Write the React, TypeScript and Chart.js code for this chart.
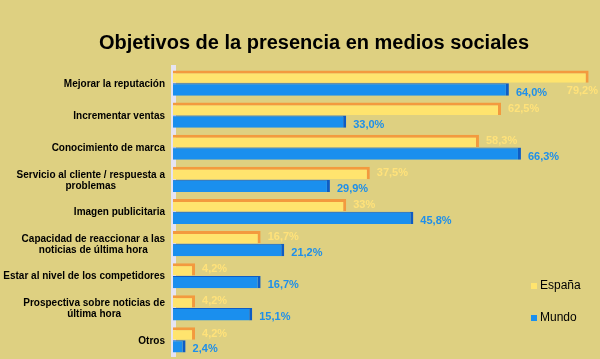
import React, { useEffect, useRef } from "react";
import { Chart, registerables } from "chart.js";

Chart.register(...registerables);

const TITLE = "Objetivos de la presencia en medios sociales";
const categories: string[][] = [
  ["Mejorar la reputación"],
  ["Incrementar ventas"],
  ["Conocimiento de marca"],
  ["Servicio al cliente / respuesta a", "problemas"],
  ["Imagen publicitaria"],
  ["Capacidad de reaccionar a las", "noticias de última hora"],
  ["Estar al nivel de los competidores"],
  ["Prospectiva sobre noticias de", "última hora"],
  ["Otros"],
];
const seriesNames = ["España", "Mundo"];
const espana = [79.2, 62.5, 58.3, 37.5, 33, 16.7, 4.2, 4.2, 4.2];
const mundo = [64.0, 33.0, 66.3, 29.9, 45.8, 21.2, 16.7, 15.1, 2.4];
const espanaLabels = ["79,2%", "62,5%", "58,3%", "37,5%", "33%", "16,7%", "4,2%", "4,2%", "4,2%"];
const mundoLabels = ["64,0%", "33,0%", "66,3%", "29,9%", "45,8%", "21,2%", "16,7%", "15,1%", "2,4%"];

const BG = "#DED081";
const YELLOW = "#FFE46E";
const ORANGE = "#F39A3E";
const BLUE = "#1A8FEE";
const DARKBLUE = "#0E5CC4";
const FONT = "Arial, 'Liberation Sans', sans-serif";

const decorPlugin = {
  id: "decor",
  afterDatasetsDraw(chart: any) {
    const ctx = chart.ctx;
    const W = chart.width;
    ctx.save();
    const sets = [
      { labels: espanaLabels, color: "#FFE27A", dy: 0 },
      { labels: mundoLabels, color: "#1E8FEA", dy: 3 },
    ];
    sets.forEach((s, di) => {
      const meta = chart.getDatasetMeta(di);
      ctx.font = "bold 11px " + FONT;
      ctx.fillStyle = s.color;
      ctx.textBaseline = "middle";
      meta.data.forEach((bar: any, i: number) => {
        const txt = s.labels[i];
        const w = ctx.measureText(txt).width;
        let x = bar.x + 7;
        let y = bar.y + s.dy;
        if (x + w > W - 2) {
          x = W - 2 - w;
          y = bar.y + 14;
        }
        ctx.textAlign = "left";
        ctx.fillText(txt, x, y);
      });
    });
    ctx.restore();
  },
  afterDraw(chart: any) {
    const ctx = chart.ctx;
    const yScale = chart.scales.y;
    ctx.save();
    ctx.font = "bold 20px " + FONT;
    ctx.fillStyle = "#000";
    ctx.textAlign = "center";
    ctx.textBaseline = "middle";
    ctx.fillText(TITLE, 314, 43);
    ctx.font = "bold 10px " + FONT;
    const right = 165;
    const lh = 11;
    categories.forEach((lines, i) => {
      const cy = yScale.getPixelForValue(i) + 1;
      const maxW = Math.max(...lines.map((l) => ctx.measureText(l).width));
      const cx = right - maxW / 2;
      lines.forEach((l, j) => {
        const y = cy - ((lines.length - 1) * lh) / 2 + j * lh;
        ctx.fillText(l, cx, y);
      });
    });
    const cols = [YELLOW, BLUE];
    ctx.font = "12px " + FONT;
    ctx.textAlign = "left";
    seriesNames.forEach((n, i) => {
      const y = 286 + i * 32;
      ctx.fillStyle = cols[i];
      ctx.fillRect(531, y - 3, 6, 6);
      ctx.fillStyle = "#000";
      ctx.fillText(n, 540, y);
    });
    ctx.restore();
  },
};

export default function App() {
  const ref = useRef<HTMLCanvasElement>(null);
  useEffect(() => {
    document.body.style.margin = "0";
    const chart = new Chart(ref.current!, {
      type: "bar",
      data: {
        labels: categories,
        datasets: [
          {
            label: seriesNames[0],
            data: espana,
            backgroundColor: YELLOW,
            borderColor: ORANGE,
            borderWidth: { top: 3, right: 3, bottom: 0, left: 0 },
            borderSkipped: false,
          },
          {
            label: seriesNames[1],
            data: mundo,
            backgroundColor: BLUE,
            borderColor: DARKBLUE,
            borderWidth: { top: 1, right: 3, bottom: 0, left: 0 },
            borderSkipped: false,
          },
        ],
      },
      options: {
        indexAxis: "y",
        responsive: false,
        animation: false,
        categoryPercentage: 0.8,
        barPercentage: 0.96,
        layout: { padding: { left: 173, right: 4, top: 67, bottom: 3 } },
        plugins: {
          legend: { display: false },
          title: { display: false },
          tooltip: { enabled: false },
        },
        scales: {
          x: { display: false, min: 0, max: 80.6 },
          y: {
            ticks: { display: false },
            grid: { drawOnChartArea: false, drawTicks: false },
            border: { display: true, color: "#E6E4F2", width: 5 },
          },
        },
      } as any,
      plugins: [decorPlugin],
    });
    return () => chart.destroy();
  }, []);
  return (
    <div style={{ width: 600, height: 359, background: BG }}>
      <canvas ref={ref} width={600} height={359} />
    </div>
  );
}
